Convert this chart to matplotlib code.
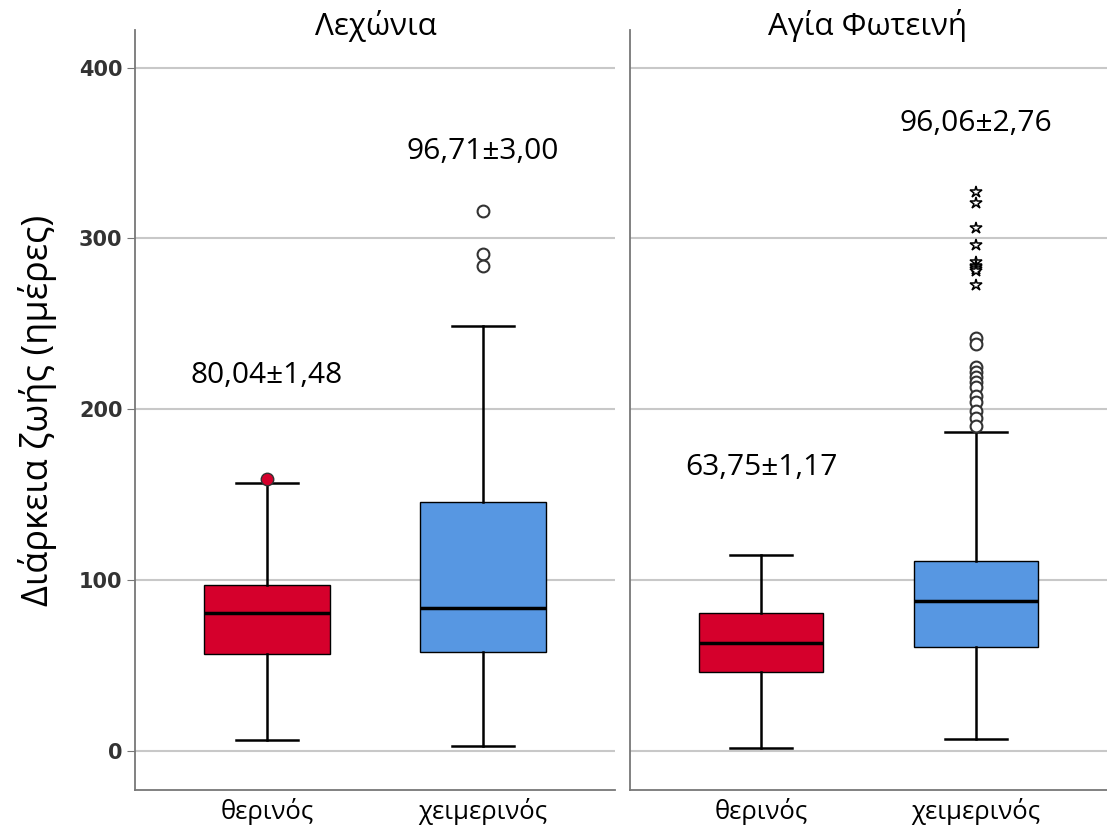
import matplotlib
matplotlib.use("Agg")
import matplotlib.pyplot as plt

# ---------------- data ----------------
panels = ["Λεχώνια", "Αγία Φωτεινή"]
categories = ["θερινός", "χειμερινός"]

# [whislo, q1, median, q3, whishi] per panel per category
lex_summer = [6.5, 57, 81, 97, 157]
lex_winter = [3, 58, 84, 146, 249]
agf_summer = [2, 46, 63, 81, 115]
agf_winter = [7, 61, 88, 111, 187]

lex_summer_out = [159]
lex_winter_out = [316, 291, 284]
agf_summer_out = []
agf_winter_out = [242, 238, 225, 222, 219, 216, 213, 208, 204, 199, 195, 190]
agf_winter_extreme = [327, 321, 306, 296, 286, 284, 283, 282, 281, 273]

labels_left = ["80,04±1,48", "96,71±3,00"]
labels_right = ["63,75±1,17", "96,06±2,76"]
label_y_left = [220, 351]
label_y_right = [166, 367]

yticks = [0, 100, 200, 300, 400]
ylabel = "Διάρκεια ζωής (ημέρες)"

colors = ["#D5002C", "#5797E2"]

# ---------------- figure ----------------
W, H = 1107, 834
fig = plt.figure(figsize=(W/100, H/100), dpi=100)
axL = fig.add_axes([135/W, 1-790/H, 480/W, 760/H])
axR = fig.add_axes([630/W, 1-790/H, 477/W, 760/H])

txt_font = "Open Sans"

def make_stats(s):
    return dict(whislo=s[0], q1=s[1], med=s[2], q3=s[3], whishi=s[4], fliers=[])

def draw(ax, stats, outs, extremes, labs, laby, title, title_x):
    bxs = [make_stats(s) for s in stats]
    b = ax.bxp(bxs, positions=[0, 1], widths=0.58, patch_artist=True,
               showfliers=False,
               boxprops=dict(linewidth=1.0, edgecolor="black"),
               medianprops=dict(color="black", linewidth=2.5),
               whiskerprops=dict(color="black", linewidth=1.8),
               capprops=dict(color="black", linewidth=1.8),
               zorder=3)
    for patch, c in zip(b["boxes"], colors):
        patch.set_facecolor(c)
    for i, o in enumerate(outs):
        if not o:
            continue
        if i == 0 and title == panels[0]:
            ax.plot([i]*len(o), o, "o", ms=9, mfc=colors[0], mec="#333333", mew=1.0, zorder=4)
        else:
            ax.plot([i]*len(o), o, "o", ms=8.5, mfc="white", mec="#333333", mew=1.5, zorder=4)
    for i, e in enumerate(extremes):
        if e:
            ax.plot([i]*len(e), e, "*", ms=9, mfc="white", mec="black", mew=1.1, zorder=4)
    for i, (t, y) in enumerate(zip(labs, laby)):
        ax.text(i, y, t, ha="center", va="center", fontsize=21.5, family=txt_font)
    ax.set_xlim(-0.611, 1.611)
    ax.set_ylim(-22.8, 422)
    ax.set_yticks(yticks)
    ax.grid(axis="y", color="#c8c8c8", linewidth=1.5, zorder=0)
    ax.set_axisbelow(True)
    ax.set_xticks([0, 1])
    ax.set_xticklabels(categories, fontsize=18.5, family=txt_font)
    ax.tick_params(axis="x", length=0, pad=6)
    fig.text(title_x/W, 1-26/H, title, ha="center", va="center",
             fontsize=22.5, family=txt_font)
    for s in ["top", "right"]:
        ax.spines[s].set_visible(False)
    for s in ["left", "bottom"]:
        ax.spines[s].set_color("#777777")
        ax.spines[s].set_linewidth(1.3)

draw(axL, [lex_summer, lex_winter], [lex_summer_out, lex_winter_out], [[], []],
     labels_left, label_y_left, panels[0], 376)
draw(axR, [agf_summer, agf_winter], [agf_summer_out, agf_winter_out], [[], agf_winter_extreme],
     labels_right, label_y_right, panels[1], 868)

axL.set_yticklabels([str(v) for v in yticks], fontsize=15, fontweight="bold",
                    family="DejaVu Sans", color="#333333")
axL.tick_params(axis="y", length=6, color="#777777", pad=3)
axL.set_ylabel(ylabel, fontsize=26, family=txt_font, labelpad=16)
axR.tick_params(axis="y", length=0, labelleft=False)

fig.savefig("out.png", dpi=100)
